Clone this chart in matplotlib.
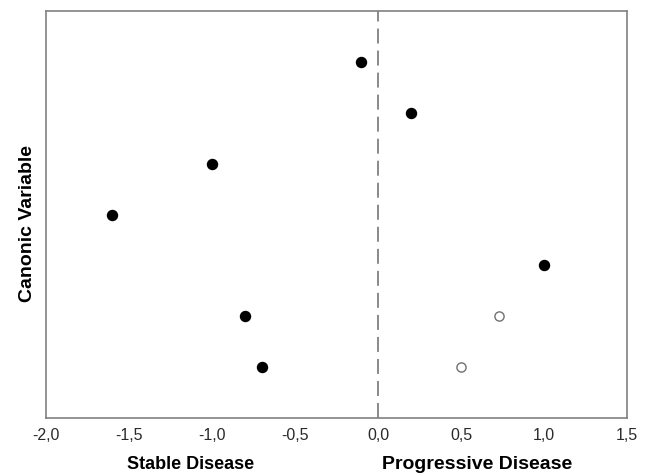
import matplotlib
matplotlib.use("Agg")
import matplotlib.pyplot as plt
import matplotlib.transforms as mtransforms

plt.rcParams['font.family'] = ['Liberation Sans', 'DejaVu Sans']

# Data
filled_x = [-0.1, 0.2, -1.0, -1.6, 1.0, -0.8, -0.7]
filled_y = [7, 6, 5, 4, 3, 2, 1]
open_x = [0.73, 0.5]
open_y = [2, 1]
xticks = [-2.0, -1.5, -1.0, -0.5, 0.0, 0.5, 1.0, 1.5]
xtick_labels = ["-2,0", "-1,5", "-1,0", "-0,5", "0,0", "0,5", "1,0", "1,5"]
group_labels = ["Stable Disease", "Progressive Disease"]
ylabel = "Canonic Variable"

fig = plt.figure(figsize=(6.46, 4.73), dpi=100)
ax = fig.add_axes([0.0712, 0.1163, 0.8994, 0.8604])

ax.axvline(0.0, color='#808080', lw=1.3, dashes=(8.3, 3.9), zorder=1)
ax.scatter(filled_x, filled_y, s=52, c='black', edgecolors='black', zorder=3)
ax.scatter(open_x, open_y, s=44, facecolors='white', edgecolors='#707070', linewidths=1.0, zorder=3)

ax.set_xlim(-2.0, 1.5)
ax.set_ylim(0, 8)
ax.set_xticks(xticks)
ax.set_xticklabels(xtick_labels, fontsize=11.5, color='#2a2a2a')
ax.set_yticks([])
ax.tick_params(axis='x', length=0, pad=7.5)
for sp in ax.spines.values():
    sp.set_color('#808080')
    sp.set_linewidth(1.2)

ax.set_ylabel(ylabel, fontsize=14, fontweight='bold')
ax.yaxis.set_label_coords(-0.017, 0.477)

trans = mtransforms.blended_transform_factory(ax.transAxes, fig.transFigure)
ax.text(0.248, 0.019, group_labels[0], transform=trans, ha='center', va='center',
        fontsize=13, fontweight='bold')
ax.text(0.742, 0.019, group_labels[1], transform=trans, ha='center', va='center',
        fontsize=14, fontweight='bold')

fig.savefig("out.png", dpi=100)
